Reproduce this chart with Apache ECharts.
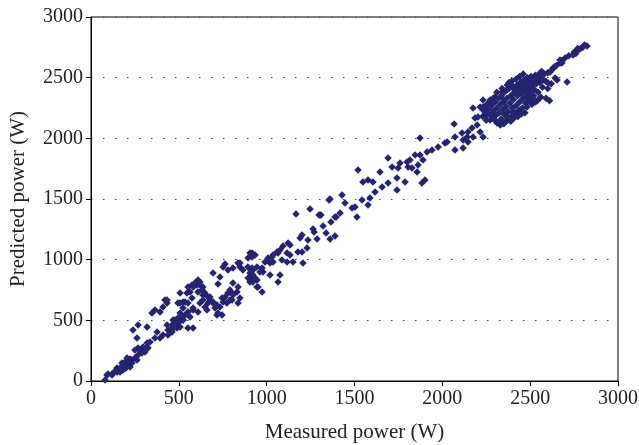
<!DOCTYPE html>
<html>
<head>
<meta charset="utf-8">
<script src="https://cdn.jsdelivr.net/npm/echarts@6/dist/echarts.min.js"></script>
<style>
html,body{margin:0;padding:0;background:#fff;}
#chart{width:639px;height:445px;}
</style>
</head>
<body>
<div id="chart"></div>
<script>
// Measured power (W), x values
const measured = [
80,91,97,120,120,137,148,148,165,165,176,176,182,188,194,194,199,205,211,211,222,222,233,233,250,262,268,268,279,290,296,296,307,319,319,324,336,262,250,
239,268,319,347,364,393,410,421,433,433,495,524,507,546,552,564,575,581,592,603,609,620,620,637,632,
376,410,393,364,438,450,461,467,478,490,495,507,518,524,535,552,564,581,609,433,438,461,490,524,507,467,461,490,478,495,524,552,581,
507,524,535,552,575,609,637,581,620,637,649,660,666,677,649,666,677,695,
695,706,717,723,734,746,752,763,774,791,803,808,831,837,848,717,746,723,791,752,734,848,865,893,911,808,780,763,808,780,837,848,803,837,695,
905,917,917,905,934,922,951,917,934,894,945,922,974,962,979,905,922,894,917,905,945,945,974,991,1008,1019,
1030,1036,1059,1065,1076,1093,1122,1133,1116,1133,1178,1201,1230,1150,1207,1116,1087,1036,1019,1076,1065,1190,1201,1235,1264,1270,1287,1321,1338,1361,1366,1389,1395,1309,1355,1167,1247,1298,
1304,1389,1418,1429,1446,1361,1486,1503,1514,1543,1588,1577,1520,1548,1577,1605,1617,1657,1691,
1645,1691,1714,1748,1742,1788,1742,1759,1799,1816,1805,1827,1862,1856,1901,1884,1845,1873,1890,1873,1913,1941,1976,2015,2027,
2072,2118,2072,2067,2112,2118,2146,2141,2146,2169,2175,2232,2215,2198,2186,2175,2215,2232,2254,2272,2311,2357,2368,2402,2442,2482,2516,2556,2232,2272,2300,2340,2340,2368,2402,2442,2482,2516,2539,2203,2232,
2230,2245,2250,2260,2270,2280,2285,2290,2300,2305,2310,2315,2320,2325,2330,2335,2340,2345,2350,2355,2360,2362,2368,2372,2375,2380,2385,2390,2395,2398,2400,2405,2410,2415,2420,2425,2428,2432,2436,2440,2445,2448,2452,2455,2460,2465,2468,2472,2475,2480,2485,2488,2492,2495,2500,2505,2510,2515,2520,2525,2530,2535,2540,2545,2550,2555,2560,2565,2570,2575,2580,2590,2520,2560,2540,2500,2470,2450,2430,2410,2390,2350,2330,2300,2280,2260,2240,2290,2310,2340,2370,2395,2420,2440,2460,2380,2360,2440,2480,2510,2590,2610,2600,2620,2530,
2613,2630,2670,2699,2744,2767,2824,2710,2653,2602,2567,2760,2780,2800,2810,2790,2750,2720,2680,2650,2640,2600,2620,2770,2642,2681,2670
];
// Predicted power (W), y values
const predicted = [
8,49,58,49,58,82,74,107,107,74,148,115,91,132,107,157,107,190,132,157,115,181,173,148,190,173,214,272,255,231,255,280,239,280,313,272,321,354,255,
420,462,445,560,585,569,610,668,643,668,643,651,725,725,775,734,791,775,808,791,832,791,816,775,750,
404,379,354,354,379,420,462,503,478,445,519,560,503,527,544,569,527,585,569,462,420,404,503,503,445,462,420,437,503,478,503,437,437,
643,602,651,643,684,734,709,602,643,668,610,585,643,692,725,692,668,643,
651,602,626,560,610,684,651,692,643,668,725,709,734,775,684,544,544,799,750,940,857,940,915,940,915,808,725,964,931,915,973,973,668,643,890,
1055,1022,931,857,849,816,775,1055,1039,1014,940,915,931,898,898,890,874,849,832,816,832,775,734,981,1014,973,
1022,1039,1063,1055,1080,1113,1137,1121,1055,1039,1063,1063,1096,981,973,981,997,981,874,874,816,1179,1203,1162,1253,1228,1170,1277,1220,1170,1310,1195,1352,1368,1492,1376,1418,1368,
1368,1352,1385,1533,1467,1500,1426,1434,1352,1492,1508,1451,1739,1640,1657,1640,1558,1599,1632,
1723,1838,1764,1756,1673,1640,1574,1797,1805,1821,1764,1756,1780,1723,1657,1632,1863,1863,1821,2003,1887,1904,1929,1962,1970,
1904,1920,2011,2118,2044,1986,1970,2011,2052,2085,2011,2011,2052,2110,2168,2250,2258,2234,2192,2151,2126,2135,2176,2217,2234,2258,2316,2333,2316,2316,2341,2333,2382,2399,2415,2440,2497,2481,2506,2176,2258,
2180,2210,2150,2240,2195,2270,2165,2225,2300,2190,2250,2130,2330,2210,2280,2160,2360,2240,2300,2195,2390,2260,2330,2150,2220,2410,2290,2350,2185,2250,2430,2320,2380,2210,2270,2440,2350,2400,2230,2300,2460,2370,2420,2250,2330,2480,2390,2440,2290,2350,2500,2410,2460,2330,2380,2510,2430,2470,2350,2400,2520,2450,2490,2380,2530,2460,2500,2550,2420,2480,2530,2470,2320,2340,2310,2310,2210,2200,2180,2170,2140,2120,2110,2150,2200,2290,2260,2330,2380,2410,2440,2470,2490,2510,2530,2460,2200,2390,2300,2280,2330,2310,2410,2450,2300,
2547,2580,2621,2662,2687,2728,2761,2464,2481,2456,2547,2700,2735,2750,2770,2745,2710,2680,2640,2600,2590,2540,2560,2740,2497,2621,2646
];
const xTicks = {min: 0, max: 3000, interval: 500};
const yTicks = {min: 0, max: 3000, interval: 500};
const xTitle = 'Measured power (W)';
const yTitle = 'Predicted power (W)';

const points = measured.map((m, i) => [m, predicted[i]]);
const font = 'Liberation Serif';
const chart = echarts.init(document.getElementById('chart'), null, {renderer: 'canvas'});
chart.setOption({
  animation: false,
  backgroundColor: '#fff',
  grid: {left: 91, right: 21, top: 17, bottom: 64, containLabel: false, outerBoundsMode: 'none', show: true, borderColor: '#000', borderWidth: 1, backgroundColor: 'transparent'},
  xAxis: {
    type: 'value', min: xTicks.min, max: xTicks.max, interval: xTicks.interval,
    name: xTitle, nameLocation: 'middle', nameGap: 41,
    nameTextStyle: {fontFamily: font, fontSize: 21, color: '#222'},
    axisLine: {show: true, lineStyle: {color: '#000', width: 1}},
    axisTick: {show: true, inside: false, length: 5, lineStyle: {color: '#000'}},
    axisLabel: {fontFamily: font, fontSize: 20, color: '#222', margin: 8, formatter: v => String(v)},
    splitLine: {show: false}
  },
  yAxis: {
    type: 'value', min: yTicks.min, max: yTicks.max, interval: yTicks.interval,
    name: yTitle, nameLocation: 'middle', nameGap: 62,
    nameTextStyle: {fontFamily: font, fontSize: 21, color: '#222'},
    axisLine: {show: true, lineStyle: {color: '#000', width: 1}},
    axisTick: {show: true, inside: false, length: 5, lineStyle: {color: '#000'}},
    axisLabel: {fontFamily: font, fontSize: 20, color: '#222', margin: 8, formatter: v => String(v)},
    splitLine: {show: true, lineStyle: {color: '#444', width: 1, type: [1.5, 10.5], dashOffset: -12}}
  },
  series: [{
    type: 'scatter',
    data: points,
    symbol: 'diamond',
    symbolSize: [7.5, 7.5],
    itemStyle: {color: '#25256f', opacity: 1},
    silent: true
  }]
});
</script>
</body>
</html>
